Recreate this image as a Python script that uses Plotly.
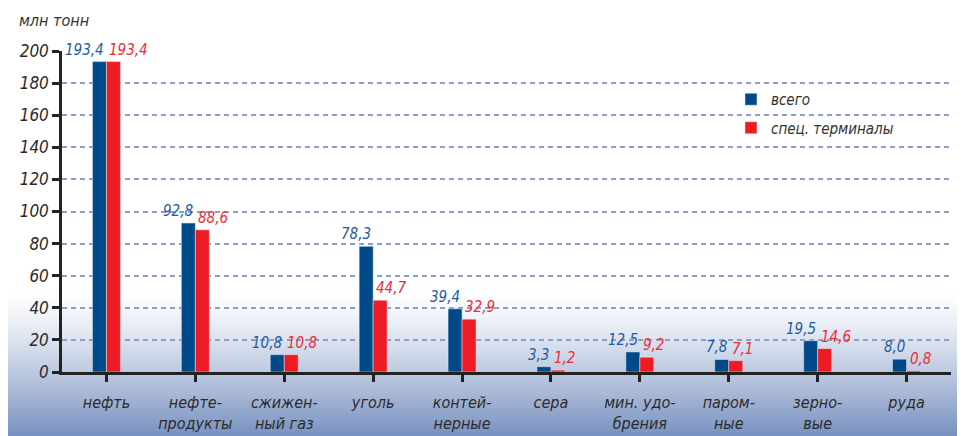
import plotly.graph_objects as go

categories = ["нефть", "нефте-<br>продукты", "сжижен-<br>ный газ", "уголь", "контей-<br>нерные",
              "сера", "мин. удо-<br>брения", "паром-<br>ные", "зерно-<br>вые", "руда"]
total = [193.4, 92.8, 10.8, 78.3, 39.4, 3.3, 12.5, 7.8, 19.5, 8.0]
special = [193.4, 88.6, 10.8, 44.7, 32.9, 1.2, 9.2, 7.1, 14.6, 0.8]
y_ticks = [0, 20, 40, 60, 80, 100, 120, 140, 160, 180, 200]

BLUE = "#004a8a"
RED = "#ed1c24"
BLUE_TXT = "#1c5c9e"
RED_TXT = "#ee2b35"
FONT = "DejaVu Sans Condensed, Liberation Sans Narrow, sans-serif"

W, H = 962, 436
L, R, T, B = 62, 11, 51, 64
PW, PH = W - L - R, H - T - B


def fmt(v):
    return f"{v:.1f}".replace(".", ",")


fig = go.Figure()
fig.add_trace(go.Bar(x=list(range(len(categories))), y=total, name="всего", marker_color=BLUE,
                     legendgroup="a"))
fig.add_trace(go.Bar(x=list(range(len(categories))), y=special, name="спец. терминалы",
                     marker_color=RED, legendgroup="b"))

annotations = []
for i, (a, b) in enumerate(zip(total, special)):
    annotations.append(dict(x=i, y=a, xref="x", yref="y", text=fmt(a), showarrow=False,
                            xanchor="right", yanchor="bottom", xshift=0, yshift=1,
                            font=dict(family=FONT, size=15, color=BLUE_TXT, style="italic")))
    annotations.append(dict(x=i, y=b, xref="x", yref="y", text=fmt(b), showarrow=False,
                            xanchor="left", yanchor="bottom", xshift=1, yshift=1,
                            font=dict(family=FONT, size=15, color=RED_TXT, style="italic")))

annotations.append(dict(x=(54 - L) / PW, y=(H - B - 21) / PH, xref="paper", yref="paper",
                        text="млн тонн", showarrow=False, xanchor="center", yanchor="middle",
                        font=dict(family=FONT, size=16, color="#333333", style="italic")))

# background gradient (white -> blue-gray toward bottom); each band overlays the previous
shapes = []
top_px, bot_px = 290, 436
c0 = (255, 255, 255)
c1 = (120, 145, 192)
step = 2
py = top_px
while py < bot_px:
    t = ((py + step / 2) - top_px) / (bot_px - top_px)
    t = t ** 1.25
    col = tuple(int(round(c0[k] + (c1[k] - c0[k]) * t)) for k in range(3))
    shapes.append(dict(type="rect", xref="paper", yref="paper",
                       x0=(8 - L) / PW, x1=(957 - L) / PW,
                       y0=(H - B - bot_px) / PH, y1=(H - B - py) / PH,
                       fillcolor=f"rgb{col}", line=dict(width=0), layer="below"))
    py += step

fig.update_layout(
    width=W, height=H,
    margin=dict(l=L, r=R, t=T, b=B, autoexpand=False),
    paper_bgcolor="white", plot_bgcolor="rgba(0,0,0,0)",
    barmode="group", bargap=0.685, bargroupgap=0,
    annotations=annotations, shapes=shapes,
    legend=dict(x=(731 - L) / PW, y=(H - B - 83) / PH, xanchor="left", yanchor="top",
                bgcolor="rgba(0,0,0,0)", traceorder="grouped", tracegroupgap=6,
                font=dict(family=FONT, size=15, color="#333333", style="italic")),
    font=dict(family=FONT, color="#333333"),
)
fig.update_xaxes(tickmode="array", tickvals=list(range(len(categories))), ticktext=categories,
                 range=[-0.5, len(categories) - 0.5], automargin=False,
                 showline=True, linecolor="#222222", linewidth=3,
                 ticks="outside", ticklen=7, tickwidth=2.5, tickcolor="#222222",
                 showgrid=False, ticklabelstandoff=7,
                 tickfont=dict(family=FONT, size=16, color="#2b2b2b", style="italic"))
fig.update_yaxes(range=[0, 200], tickvals=y_ticks, showline=True, linecolor="#222222",
                 linewidth=2.5, ticks="outside", ticklen=7, tickwidth=2.5, tickcolor="#222222",
                 showgrid=True, gridcolor="#8b9dc8", gridwidth=1.5, griddash="5px,4px",
                 zeroline=False, automargin=False,
                 tickfont=dict(family=FONT, size=17, color="#2b2b2b", style="italic"))

fig.write_html("out.html")
